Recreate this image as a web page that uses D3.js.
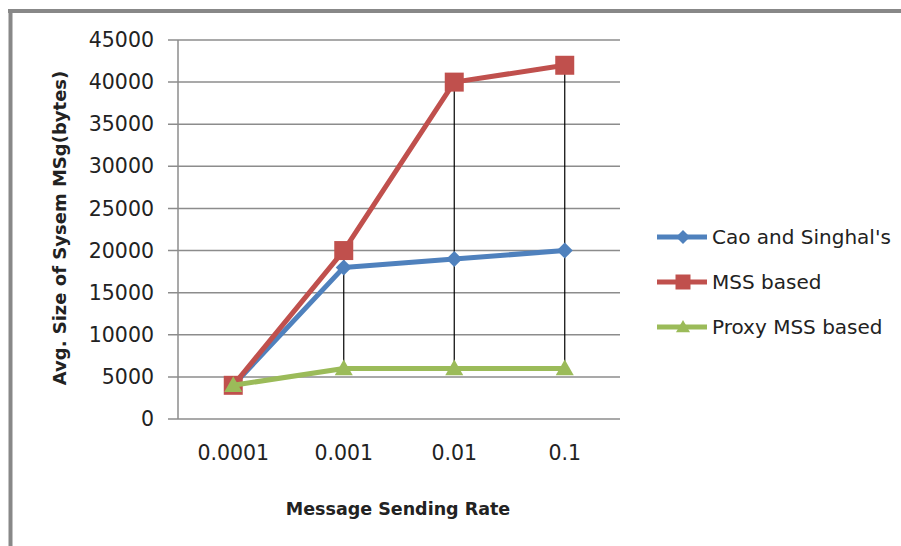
<!DOCTYPE html>
<html>
<head>
<meta charset="utf-8">
<script src="https://cdn.jsdelivr.net/npm/d3@7"></script>
<style>
  html, body { margin: 0; padding: 0; background: #fff; overflow: hidden; }
  svg { display: block; }
  text { font-family: "DejaVu Sans", sans-serif; fill: #222; }
</style>
</head>
<body>
<svg id="chart" width="901" height="546"></svg>
<script>
const categories = ["0.0001", "0.001", "0.01", "0.1"];
const seriesNames = ["Cao and Singhal's", "MSS based", "Proxy MSS based"];
const caoValues = [4000, 18000, 19000, 20000];
const mssValues = [4000, 20000, 40000, 42000];
const proxyValues = [4000, 6000, 6000, 6000];
const yTicks = [0, 5000, 10000, 15000, 20000, 25000, 30000, 35000, 40000, 45000];
const colors = ["#4F81BD", "#C0504D", "#9BBB59"];
const markers = ["diamond", "square", "triangle"];

const series = [caoValues, mssValues, proxyValues].map((v, i) => ({
  name: seriesNames[i], values: v, color: colors[i], marker: markers[i]
}));

const svg = d3.select("#chart");
const W = 901, H = 546;

// Outer frame (top and left edges visible)
svg.append("line").attr("x1", 8).attr("x2", W).attr("y1", 11).attr("y2", 11)
  .attr("stroke", "#888").attr("stroke-width", 4);
svg.append("line").attr("x1", 10.5).attr("x2", 10.5).attr("y1", 9).attr("y2", H)
  .attr("stroke", "#888").attr("stroke-width", 4);

const plot = { left: 178, right: 620, top: 40, bottom: 419 };

const x = d3.scaleBand().domain(categories).range([plot.left, plot.right]);
const y = d3.scaleLinear().domain([0, 45000]).range([plot.bottom, plot.top]);

// gridlines
svg.append("g").selectAll("line").data(yTicks).join("line")
  .attr("x1", plot.left - 10).attr("x2", plot.right)
  .attr("y1", d => y(d)).attr("y2", d => y(d))
  .attr("stroke", "#8c8c8c").attr("stroke-width", 1.5);

// y axis line
svg.append("line").attr("x1", plot.left).attr("x2", plot.left)
  .attr("y1", plot.top).attr("y2", plot.bottom)
  .attr("stroke", "#8c8c8c").attr("stroke-width", 1.5);

// y axis labels
const yAxis = d3.axisLeft(y).tickValues(yTicks).tickSize(0).tickPadding(0).tickFormat(d3.format("d"));
const gy = svg.append("g").attr("transform", `translate(${plot.left - 24},0)`).call(yAxis);
gy.select(".domain").remove();
gy.selectAll("text").attr("font-family", "DejaVu Sans").attr("font-size", 20.5).attr("fill", "#222");

// x axis labels
const xAxis = d3.axisBottom(x).tickSize(0).tickPadding(0);
const gx = svg.append("g").attr("transform", `translate(0,${plot.bottom + 26})`).call(xAxis);
gx.select(".domain").remove();
gx.selectAll("text").attr("font-family", "DejaVu Sans").attr("font-size", 20.5).attr("fill", "#222");

// high-low lines
svg.append("g").selectAll("line").data(categories).join("line")
  .attr("x1", d => x(d) + x.bandwidth() / 2).attr("x2", d => x(d) + x.bandwidth() / 2)
  .attr("y1", (d, i) => y(d3.max(series, s => s.values[i])))
  .attr("y2", (d, i) => y(d3.min(series, s => s.values[i])))
  .attr("stroke", "#000").attr("stroke-width", 1.2);

function markerPath(type, size) {
  const h = size / 2;
  if (type === "diamond") return `M0,${-h}L${h},0L0,${h}L${-h},0Z`;
  if (type === "square") return `M${-h},${-h}H${h}V${h}H${-h}Z`;
  return `M0,${-h}L${h},${h * 0.75}L${-h},${h * 0.75}Z`;
}
const markerSize = { diamond: 16, square: 19, triangle: 18 };

const line = d3.line().x((d, i) => x(categories[i]) + x.bandwidth() / 2).y(d => y(d));

series.forEach(s => {
  const g = svg.append("g");
  g.append("path").datum(s.values).attr("d", line)
    .attr("fill", "none").attr("stroke", s.color).attr("stroke-width", 5)
    .attr("stroke-linejoin", "round");
  g.selectAll("path.m").data(s.values).join("path").attr("class", "m")
    .attr("transform", (d, i) => `translate(${x(categories[i]) + x.bandwidth() / 2},${y(d)})`)
    .attr("d", markerPath(s.marker, markerSize[s.marker]))
    .attr("fill", s.color);
});

// Axis titles
svg.append("text").attr("transform", `translate(66,228) rotate(-90)`)
  .attr("text-anchor", "middle").attr("font-size", 18).attr("font-weight", "bold")
  .text("Avg. Size of Sysem MSg(bytes)");
svg.append("text").attr("x", 398).attr("y", 515)
  .attr("text-anchor", "middle").attr("font-size", 17.5).attr("font-weight", "bold")
  .text("Message Sending Rate");

// Legend
const legendY = [237, 282, 327];
const lg = svg.append("g");
series.forEach((s, i) => {
  const gg = lg.append("g").attr("transform", `translate(0,${legendY[i]})`);
  gg.append("line").attr("x1", 657).attr("x2", 707).attr("y1", 0).attr("y2", 0)
    .attr("stroke", s.color).attr("stroke-width", 5);
  gg.append("path").attr("transform", "translate(683,0)")
    .attr("d", markerPath(s.marker, s.marker === "square" ? 15 : 14)).attr("fill", s.color);
  gg.append("text").attr("x", 712).attr("y", 0).attr("dy", "0.35em")
    .attr("font-size", 20).text(s.name);
});
</script>
</body>
</html>
